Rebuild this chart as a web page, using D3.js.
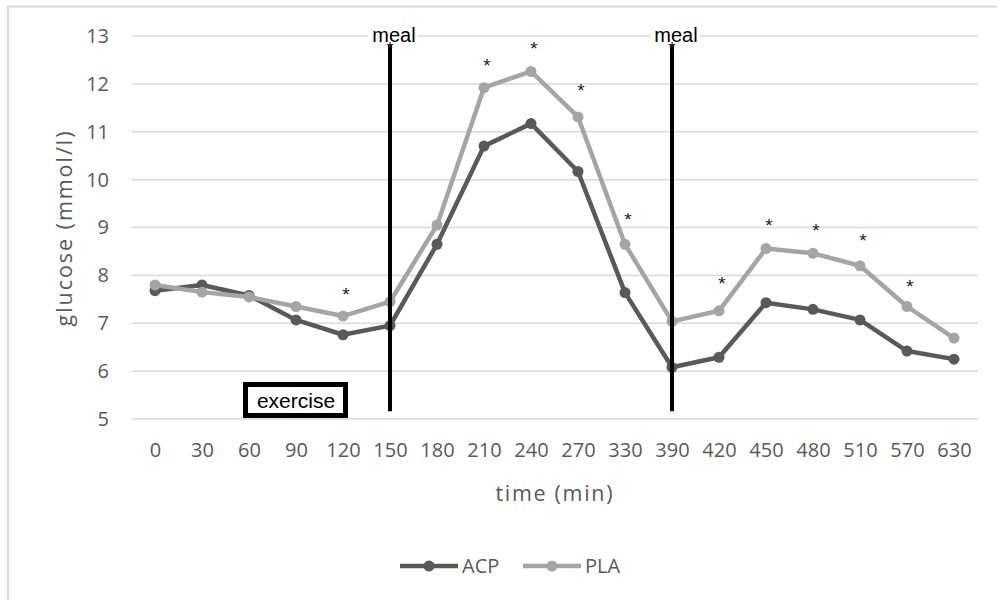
<!DOCTYPE html>
<html><head><meta charset="utf-8">
<script src="https://cdn.jsdelivr.net/npm/d3@7"></script>
<style>body{margin:0;background:#fff}svg{display:block}</style>
</head><body>
<svg id="c" width="997" height="600"></svg>
<script>
const categories = ["0","30","60","90","120","150","180","210","240","270","330","390","420","450","480","510","570","630"];
const acp = [7.68,7.8,7.58,7.07,6.76,6.95,8.65,10.7,11.17,10.17,7.64,6.08,6.29,7.43,7.29,7.07,6.42,6.25];
const pla = [7.8,7.65,7.55,7.35,7.15,7.45,9.05,11.92,12.26,11.31,8.65,7.04,7.26,8.56,8.46,8.2,7.35,6.69];
const starCats = ["120","210","240","270","330","420","450","480","510","570"];
const starVals = [7.7,12.48,12.83,11.96,9.26,7.92,9.14,9.04,8.83,7.87];
const mealCats = ["150","390"];
const yTicks = [5,6,7,8,9,10,11,12,13];
const seriesNames = ["ACP","PLA"];
const seriesColors = ["#595959","#a5a5a5"];

const svg = d3.select("#c");
svg.append("rect").attr("x",8).attr("y",6.5).attr("width",1000).attr("height",600)
  .attr("fill","#fff").attr("stroke","#d9d9d9").attr("stroke-width",2);

const x = d3.scalePoint().domain(categories).range([155,954]);
const y = d3.scaleLinear().domain([5,13]).range([419,36]);
const font = "'Open Sans', sans-serif";
const arial = "'Liberation Sans', Arial, sans-serif";

// gridlines
svg.append("g").selectAll("line").data(yTicks).join("line")
  .attr("x1",132).attr("x2",978).attr("y1",d=>y(d)).attr("y2",d=>y(d))
  .attr("stroke","#d9d9d9").attr("stroke-width",1.5);

// y axis
const yAxis = svg.append("g").attr("transform","translate(109,0)")
  .call(d3.axisLeft(y).tickValues(yTicks).tickSize(0).tickPadding(0));
yAxis.select(".domain").remove();
yAxis.selectAll("text").attr("fill","#595959").style("font-family",font).style("font-size","20px");

// x axis
const xAxis = svg.append("g").attr("transform","translate(0,443)")
  .call(d3.axisBottom(x).tickSize(0).tickPadding(0));
xAxis.select(".domain").remove();
xAxis.selectAll("text").attr("fill","#595959").style("font-family",font).style("font-size","20px").attr("dy","0.71em");

svg.append("text").attr("transform","translate(72,229) rotate(-90)").attr("text-anchor","middle")
  .attr("fill","#595959").style("font-family",font).style("font-size","21.5px")
  .attr("textLength",195).attr("lengthAdjust","spacing").text("glucose (mmol/l)");
svg.append("text").attr("x",554).attr("y",501).attr("text-anchor","middle")
  .attr("fill","#595959").style("font-family",font).style("font-size","21.5px")
  .attr("textLength",117).attr("lengthAdjust","spacing").text("time (min)");

// series
const line = d3.line().x((d,i)=>x(categories[i])).y(d=>y(d));
[acp,pla].forEach((s,k)=>{
  const g = svg.append("g");
  g.append("path").datum(s).attr("d",line).attr("fill","none")
    .attr("stroke",seriesColors[k]).attr("stroke-width",4.5).attr("stroke-linejoin","round");
  g.selectAll("circle").data(s).join("circle")
    .attr("cx",(d,i)=>x(categories[i])).attr("cy",d=>y(d)).attr("r",5.5).attr("fill",seriesColors[k]);
});

// meal lines
mealCats.forEach(c=>{
  svg.append("rect").attr("x",x(c)-22).attr("y",y(13)-8).attr("width",50).attr("height",14).attr("fill","#fff");
  svg.append("line").attr("x1",x(c)).attr("x2",x(c)).attr("y1",y(12.83)).attr("y2",y(5.16))
    .attr("stroke","#000").attr("stroke-width",4);
  svg.append("text").attr("x",x(c)+4).attr("y",y(13)+6).attr("text-anchor","middle")
    .attr("fill","#000").style("font-family",arial).style("font-size","20px").text("meal");
  svg.append("text").attr("x",x(c)).attr("y",y(12.6)).attr("text-anchor","middle")
    .attr("fill","#222").style("font-family",arial).style("font-size","18px").text("*");
});

// stars
svg.append("g").selectAll("text").data(starVals).join("text")
  .attr("x",(d,i)=>x(starCats[i])+3).attr("y",d=>y(d)+11).attr("text-anchor","middle")
  .attr("fill","#222").style("font-family",arial).style("font-size","19px").text("*");

// exercise box
svg.append("rect").attr("x",245.5).attr("y",384.5).attr("width",100).attr("height",31)
  .attr("fill","#fff").attr("stroke","#000").attr("stroke-width",5);
svg.append("text").attr("x",296).attr("y",408).attr("text-anchor","middle")
  .attr("fill","#000").style("font-family",arial).style("font-size","21px").text("exercise");

// legend
const lx = [400,523];
seriesNames.forEach((n,k)=>{
  const g = svg.append("g");
  g.append("line").attr("x1",lx[k]).attr("x2",lx[k]+58).attr("y1",566).attr("y2",566)
    .attr("stroke",seriesColors[k]).attr("stroke-width",4.5);
  g.append("circle").attr("cx",lx[k]+29).attr("cy",566).attr("r",5.5).attr("fill",seriesColors[k]);
  g.append("text").attr("x",lx[k]+62).attr("y",573).attr("fill","#595959")
    .style("font-family",font).style("font-size","20px").text(n);
});
</script>
</body></html>
